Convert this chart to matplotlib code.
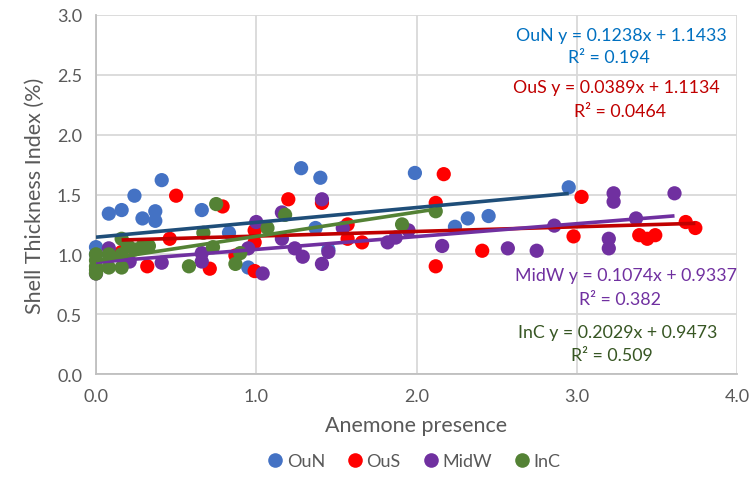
import matplotlib
matplotlib.use("Agg")
import matplotlib.pyplot as plt
from matplotlib.lines import Line2D
import numpy as np

plt.rcParams['font.family'] = ['Lato', 'DejaVu Sans']

# Shell thickness index vs anemone presence, per site
oun_x = [0.00, 0.00, 0.08, 0.16, 0.24, 0.29, 0.37, 0.37, 0.41, 0.66, 0.83, 0.95,
         1.28, 1.40, 1.37, 1.45, 1.99, 2.24, 2.32, 2.45, 2.95]
oun_y = [1.06, 1.00, 1.34, 1.37, 1.49, 1.30, 1.36, 1.28, 1.62, 1.37, 1.18, 0.89,
         1.72, 1.64, 1.22, 1.04, 1.68, 1.23, 1.30, 1.32, 1.56]

ous_x = [0.16, 0.32, 0.46, 0.50, 0.71, 0.79, 0.87, 0.99, 0.99, 0.99, 1.20, 1.41,
         1.57, 1.57, 1.66, 2.12, 2.12, 2.17, 2.41, 2.98, 3.03, 3.39, 3.44, 3.49,
         3.68, 3.74]
ous_y = [1.02, 0.90, 1.13, 1.49, 0.88, 1.40, 0.99, 1.20, 1.10, 0.86, 1.46, 1.43,
         1.25, 1.13, 1.10, 1.43, 0.90, 1.67, 1.03, 1.15, 1.48, 1.16, 1.13, 1.16,
         1.27, 1.22]

midw_x = [0.00, 0.08, 0.21, 0.41, 0.66, 0.66, 0.95, 1.00, 1.04, 1.16, 1.16, 1.24,
          1.29, 1.41, 1.41, 1.45, 1.54, 1.82, 1.87, 1.95, 2.16, 2.57, 2.75, 2.86,
          3.20, 3.20, 3.23, 3.23, 3.37, 3.61]
midw_y = [0.84, 1.05, 0.94, 0.93, 1.01, 0.94, 1.05, 1.27, 0.84, 1.35, 1.13, 1.05,
          0.98, 1.46, 0.92, 1.02, 1.22, 1.10, 1.14, 1.20, 1.07, 1.05, 1.03, 1.24,
          1.13, 1.05, 1.51, 1.44, 1.30, 1.51]

inc_x = [0.00, 0.00, 0.00, 0.00, 0.00, 0.08, 0.08, 0.16, 0.16, 0.16, 0.20, 0.24,
         0.29, 0.33, 0.58, 0.67, 0.73, 0.75, 0.87, 0.90, 1.07, 1.18, 1.91, 2.12]
inc_y = [1.00, 0.95, 0.90, 0.87, 0.84, 1.00, 0.89, 1.13, 1.00, 0.89, 1.07, 1.04,
         1.07, 1.07, 0.90, 1.18, 1.06, 1.42, 0.92, 1.01, 1.22, 1.33, 1.25, 1.36]

series_names = ['OuN', 'OuS', 'MidW', 'InC']
slopes = [0.1238, 0.0389, 0.1074, 0.2029]
intercepts = [1.1433, 1.1134, 0.9337, 0.9473]
r_squared = ['0.194', '0.0464', '0.382', '0.509']

x_ticks = [0.0, 1.0, 2.0, 3.0, 4.0]
y_ticks = [0.0, 0.5, 1.0, 1.5, 2.0, 2.5, 3.0]

marker_colors = ['#4472C4', '#FF0000', '#7030A0', '#548235']
line_colors = ['#1F4E79', '#C00000', '#7030A0', '#548235']
text_colors = ['#0070C0', '#C00000', '#7030A0', '#375623']

W, H = 749, 485
fig = plt.figure(figsize=(W / 100, H / 100), dpi=100)
ax = fig.add_axes([96 / W, 1 - 375 / H, (737 - 96) / W, (375 - 16) / H])

xs = [oun_x, ous_x, midw_x, inc_x]
ys = [oun_y, ous_y, midw_y, inc_y]

for name, x, y, mc in zip(series_names, xs, ys, marker_colors):
    ax.scatter(x, y, s=105, color=mc, edgecolors='none', zorder=3, label=name,
               clip_on=False)

for x, m, b, lc in zip(xs, slopes, intercepts, line_colors):
    xl = np.array([min(x), max(x)])
    ax.plot(xl, m * xl + b, color=lc, lw=2.6, zorder=4, solid_capstyle='butt')

ax.set_xlim(0, 4)
ax.set_ylim(0, 3)
ax.set_xticks(x_ticks)
ax.set_yticks(y_ticks)
ax.set_xticklabels([f'{v:.1f}' for v in x_ticks])
ax.set_yticklabels([f'{v:.1f}' for v in y_ticks])
ax.grid(True, color='#D9D9D9', lw=1.3, zorder=0)
ax.set_axisbelow(True)
for s in ['top', 'right']:
    ax.spines[s].set_visible(False)
for s in ['left', 'bottom']:
    ax.spines[s].set_color('#BFBFBF')
    ax.spines[s].set_linewidth(1.3)
ax.tick_params(length=0, labelsize=13, colors='#595959', pad=10)

ax.set_xlabel('Anemone presence', fontsize=15.5, color='#595959', labelpad=8)
ax.set_ylabel('Shell Thickness Index (%)', fontsize=15.5, color='#595959', labelpad=9)

# Trendline equations: (equation right edge, y, R² centre x, y) in pixels
eq_pos = [(727, 36, 609, 58), (720, 88, 620, 112), (737, 276, 620, 300), (717, 333, 612, 356)]
for name, m, b, r2, tc, (ex, ey, rx, ry) in zip(series_names, slopes, intercepts,
                                                 r_squared, text_colors, eq_pos):
    fig.text(ex / W, 1 - ey / H, f'{name} y = {m:.4f}x + {b:.4f}', color=tc,
             fontsize=12.8, ha='right', va='center')
    fig.text(rx / W, 1 - ry / H, f'R² = {r2}', color=tc,
             fontsize=12.8, ha='center', va='center')

handles = [Line2D([], [], marker='o', ls='none', markersize=10.5, color=c,
                  markeredgewidth=0) for c in marker_colors]
fig.legend(handles, series_names, loc='center', bbox_to_anchor=(411 / W, 1 - 462 / H),
           ncol=4, frameon=False, fontsize=13, labelcolor='#595959',
           handletextpad=-0.1, columnspacing=0.9, handlelength=1.5)

fig.savefig('out.png', dpi=100)
